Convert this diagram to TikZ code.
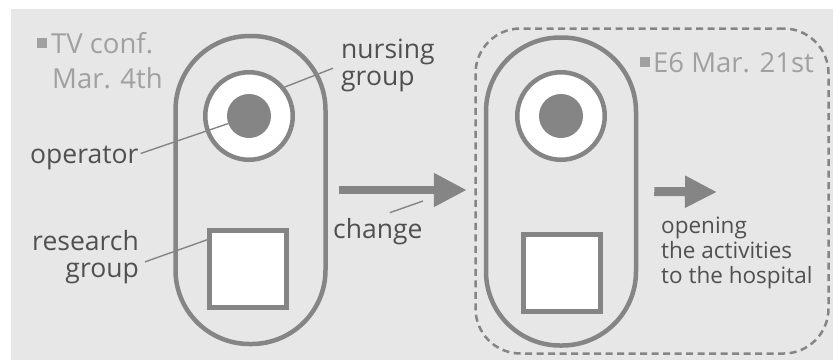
\documentclass[tikz,border=0pt]{standalone}
\usepackage{fontspec}
\setmainfont{Open Sans}
\usetikzlibrary{arrows.meta}
\definecolor{bg}{HTML}{E7E7E7}
\definecolor{stroke}{HTML}{858585}
\definecolor{lbl}{HTML}{505050}
\definecolor{datec}{HTML}{A0A0A0}
\begin{document}
\begin{tikzpicture}[x=1pt,y=-1pt,
  capsule/.style={draw=stroke, line width=4.5pt, rounded corners=74pt, minimum width=150pt, minimum height=308pt, inner sep=0pt},
  ring/.style={circle, draw=stroke, line width=4.5pt, fill=white, minimum size=87.5pt, inner sep=0pt},
  dot/.style={circle, fill=stroke, minimum size=44pt, inner sep=0pt},
  sqbox/.style={draw=stroke, line width=5pt, fill=white, minimum size=77pt, inner sep=0pt},
  lab/.style={text=lbl, font=\fontsize{26.5}{26.5}\selectfont, inner sep=0pt},
  datelab/.style={text=datec, font=\fontsize{27.5}{30}\selectfont, inner sep=0pt},
  conn/.style={draw=stroke, line width=1.4pt},
  bigarrow/.style={draw=stroke, line width=8pt, -{Triangle[length=33pt,width=32pt]}},
  smallarrow/.style={draw=stroke, line width=9pt, -{Triangle[length=32pt,width=30pt]}},
  groupbox/.style={draw=stroke, line width=2.5pt, dash pattern=on 7pt off 4.5pt, rounded corners=45pt, minimum width=353pt, minimum height=325pt, inner sep=0pt},
]
\useasboundingbox (0,0) rectangle (833,360);
\fill[bg] (11,9) rectangle (833,360);

\node[groupbox] (grp) at (652,191) {};
\node[capsule] (cap1) at (250.5,190) {};
\node[capsule] (cap2) at (561,191.5) {};
\node[ring] (ring1) at (249,116) {};
\node[dot] (dot1) at (249,116) {};
\node[ring] (ring2) at (561,116) {};
\node[dot] (dot2) at (561,116) {};
\node[sqbox] (sq1) at (248,268.5) {};
\node[sqbox] (sq2) at (562,272.5) {};

\draw[bigarrow, shorten >=7.5pt] ([xshift=11pt]cap1.east) -- (grp.west |- cap1.east);
\coordinate (hosp) at (717,192);
\draw[smallarrow] ([xshift=16pt]cap2.east) -- (hosp);

\node[datelab, anchor=base west] (tv) at (37,53) {\raisebox{5pt}{\rule{10pt}{10pt}}\hspace{4pt}TV conf.};
\node[datelab, anchor=base west] (mar) at (52,88) {Mar. 4th};
\node[datelab, anchor=base west] (e6) at (640,72) {\raisebox{5pt}{\rule{10pt}{10pt}}\hspace{3pt}E6 Mar. 21st};

\node[lab, anchor=base west] (op) at (30,163) {operator};
\node[lab, anchor=base west, align=left] (nurs) at (341,85) {nursing\\group};
\node[lab, anchor=base east, align=right] (res) at (139,277) {research\\group};
\node[lab, anchor=base west] (chg) at (333,238) {change};
\node[lab, anchor=base west, align=left, font=\fontsize{22.5}{25}\selectfont] (open) at (661,283) {opening\\the activities\\to the hospital};

\draw[conn] ([xshift=2pt,yshift=4pt]op.east) -- (dot1.200);
\draw[conn] ([xshift=-8pt,yshift=-3pt]nurs.west) -- (ring1.39);
\draw[conn] ([xshift=6pt,yshift=-5pt]res.east) -- (sq1.145);
\coordinate (chgend) at (423,201);
\draw[conn] ([xshift=12pt,yshift=5pt]chg.north) -- (chgend);
\end{tikzpicture}
\end{document}
